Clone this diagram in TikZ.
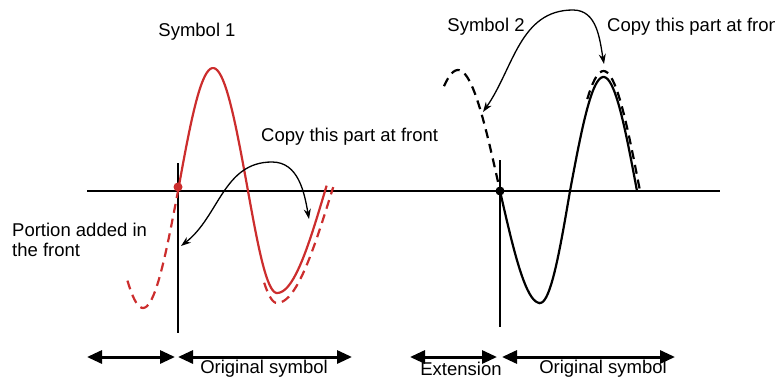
\documentclass[tikz,border=0pt]{standalone}
\usepackage{fontspec}
\setmainfont{Liberation Sans}
\usetikzlibrary{arrows.meta, positioning}
\definecolor{symred}{RGB}{204,45,45}

\begin{document}
\begin{tikzpicture}[x=1pt, y=1pt, font=\fontsize{18.5}{20}\selectfont,
	wave/.style={line width=2.2pt},
	copyline/.style={line width=2.2pt, dash pattern=on 9pt off 6pt},
	bendarrow/.style={line width=1.3pt, {Stealth[length=10pt,width=7pt]}-{Stealth[length=10pt,width=7pt]}},
	spanarrow/.style={line width=3pt, {Triangle[length=15pt,width=13pt]}-{Triangle[length=15pt,width=13pt]}}]
		\useasboundingbox (0,-189) rectangle (775,191);
		% Draw axis and the two start markers
		\coordinate (axisL) at (87,0);
		\coordinate (axisR) at (720,0);
		\draw[line width=1.5pt] (axisL) -- (axisR);
		\coordinate (markTopA) at (178,28);
		\coordinate (markBotA) at (178,-142);
		\coordinate (markTopB) at (500,31);
		\coordinate (markBotB) at (500,-136);
		\draw[line width=1.5pt] (markTopA) -- (markBotA);
		\draw[line width=1.5pt] (markTopB) -- (markBotB);
		% Symbol 1: original (solid) and copies (dashed)
		\draw[wave, symred] plot[domain=0:180, samples=40] ({178+70*\x/180},{123*sin(\x)})
			-- plot[domain=0:90, samples=20] ({248+29*\x/90},{-102*sin(\x)})
			-- plot[domain=90:183, samples=25] ({277+48*(\x-90)/90},{-102*sin(\x)});
		\draw[copyline, symred] plot[domain=55:90, samples=10] ({244+33*\x/90},{-112*sin(\x)})
			-- plot[domain=90:182, samples=25] ({277+55*(\x-90)/90},{-112*sin(\x)});
		\draw[copyline, symred] plot[domain=50:180, samples=30] ({143+35*(\x-90)/90},{-117*sin(\x)});
		\fill[symred] (178,4) circle (4.5);
		% Symbol 2: original (solid) and copies (dashed)
		\draw[wave] plot[domain=0:90, samples=20] ({500+40*\x/90},{-112*sin(\x)})
			-- plot[domain=90:180, samples=20] ({540+30*(\x-90)/90},{-112*sin(\x)})
			-- plot[domain=0:180, samples=40] ({570+67*\x/180},{114*sin(\x)});
		\draw[copyline] plot[domain=50:180, samples=30] ({567+73*\x/180},{120*sin(\x)});
		\draw[copyline] plot[domain=60:180, samples=30] ({458+42*(\x-90)/90},{121*sin(\x)});
		\fill (500,0) circle (4.5);
		% Copy arrows
		\coordinate (frontA) at (181,-55);
		\coordinate (topA) at (272,29);
		\coordinate (partA) at (309,-28);
		\draw[bendarrow] (frontA) to[out=38,in=180] (topA) to[out=0,in=100] (partA);
		\coordinate (frontB) at (483,79);
		\coordinate (topB) at (573,181);
		\coordinate (partB) at (604,127);
		\draw[bendarrow] (frontB) to[out=55,in=180] (topB) to[out=0,in=100] (partB);
		% Labels
		\node (symA) at (197,159) {Symbol 1};
		\node (symB) at (486,164) {Symbol 2};
		\node[anchor=west, inner sep=0pt] (copyA) at (261,54) {Copy this part at front};
		\node[anchor=west, inner sep=0pt] (copyB) at (607,164) {Copy this part at front};
		\node[anchor=west, align=left, inner sep=0pt] (portion) at (12,-49) {Portion added in\\the front};
		% Extent arrows at the bottom
		\coordinate (extA) at (87,-166);
		\coordinate (midA) at (175,-166);
		\coordinate (origA) at (178,-166);
		\coordinate (endA) at (352,-166);
		\draw[spanarrow] (extA) -- (midA);
		\draw[spanarrow] (origA) -- (endA);
		\coordinate (extB) at (410,-166);
		\coordinate (midB) at (497,-166);
		\coordinate (origB) at (502,-166);
		\coordinate (endB) at (675,-166);
		\draw[spanarrow] (extB) -- (midB);
		\draw[spanarrow] (origB) -- (endB);
		\node (origTextA) at (264,-178) {Original symbol};
		\node (extText) at (461,-178) {Extension};
		\node (origTextB) at (603,-178) {Original symbol};
	\end{tikzpicture}
\end{document}
